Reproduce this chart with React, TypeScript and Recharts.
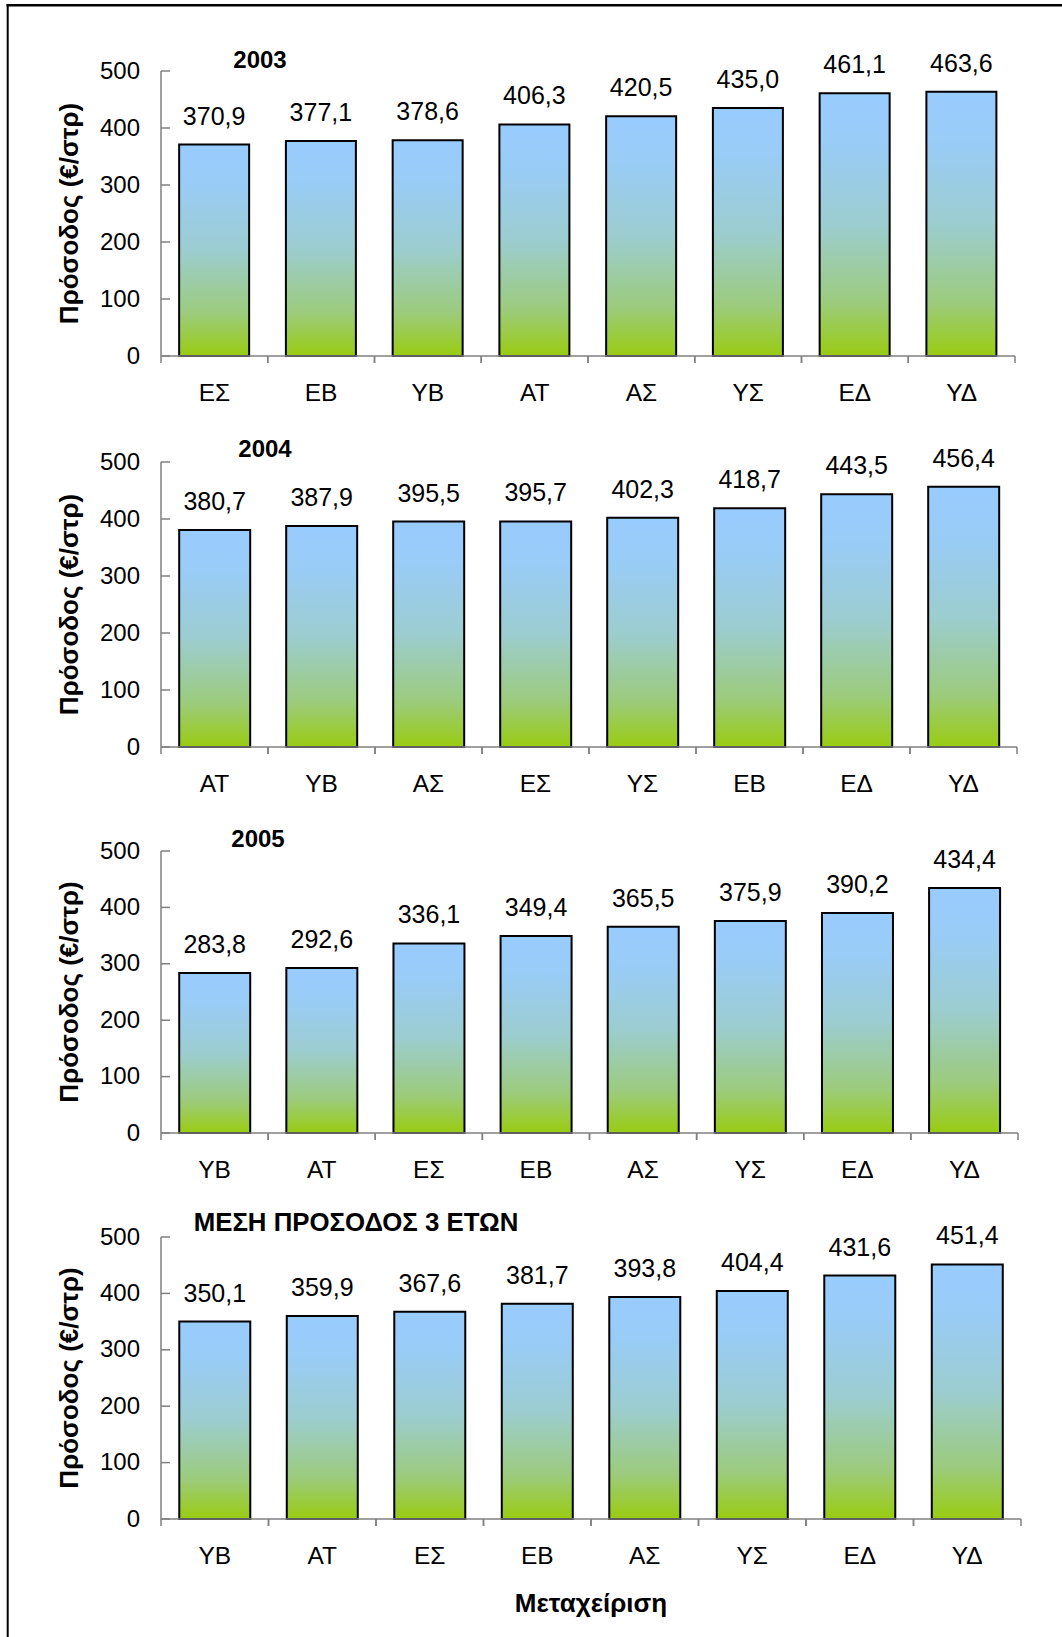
import React from 'react'
import { BarChart, Bar, XAxis, YAxis, LabelList } from 'recharts'

const FONT = '"Liberation Sans", Arial, sans-serif'

// 2003
const cats2003 = ['ΕΣ', 'ΕΒ', 'ΥΒ', 'ΑΤ', 'ΑΣ', 'ΥΣ', 'ΕΔ', 'ΥΔ']
const vals2003 = [370.9, 377.1, 378.6, 406.3, 420.5, 435.0, 461.1, 463.6]

// 2004
const cats2004 = ['ΑΤ', 'ΥΒ', 'ΑΣ', 'ΕΣ', 'ΥΣ', 'ΕΒ', 'ΕΔ', 'ΥΔ']
const vals2004 = [380.7, 387.9, 395.5, 395.7, 402.3, 418.7, 443.5, 456.4]

// 2005
const cats2005 = ['ΥΒ', 'ΑΤ', 'ΕΣ', 'ΕΒ', 'ΑΣ', 'ΥΣ', 'ΕΔ', 'ΥΔ']
const vals2005 = [283.8, 292.6, 336.1, 349.4, 365.5, 375.9, 390.2, 434.4]

// 3-year mean
const catsMean = ['ΥΒ', 'ΑΤ', 'ΕΣ', 'ΕΒ', 'ΑΣ', 'ΥΣ', 'ΕΔ', 'ΥΔ']
const valsMean = [350.1, 359.9, 367.6, 381.7, 393.8, 404.4, 431.6, 451.4]

const yTicks = [0, 100, 200, 300, 400, 500]
const yLabel = 'Πρόσοδος (€/στρ)'
const xLabel = 'Μεταχείριση'

const PAGE_W = 1062
const PAGE_H = 1637
const AXIS_X = 161
const TOP_PAD = 40
const AXIS_COLOR = '#808080'

const fmt = (v: any) => Number(v).toFixed(1).replace('.', ',')

type PanelProps = {
  id: string
  cats: string[]
  vals: number[]
  plotTop: number
  plotHeight: number
  plotRight: number
}

const Panel = ({ id, cats, vals, plotTop, plotHeight, plotRight }: PanelProps) => {
  const data = cats.map((c, i) => ({ name: c, value: vals[i] }))
  const band = (plotRight - AXIS_X) / cats.length
  const xAxisH = 60

  const XTick = (props: any) => {
    const { x, y, payload } = props
    return (
      <g>
        <line x1={x - band / 2} y1={y} x2={x - band / 2} y2={y + 7} stroke={AXIS_COLOR} strokeWidth={1.5} />
        <line x1={x + band / 2} y1={y} x2={x + band / 2} y2={y + 7} stroke={AXIS_COLOR} strokeWidth={1.5} />
        <text x={x} y={y + 36} dy="0.355em" textAnchor="middle" fontSize={24.5} fill="#000" fontFamily={FONT}>
          {payload.value}
        </text>
      </g>
    )
  }

  const YTick = (props: any) => {
    const { x, y, payload } = props
    return (
      <g>
        <line x1={x} y1={y} x2={x + 9} y2={y} stroke={AXIS_COLOR} strokeWidth={1.5} />
        <text x={x - 21} y={y - 1} dy="0.355em" textAnchor="end" fontSize={24} fill="#000" fontFamily={FONT}>
          {payload.value}
        </text>
      </g>
    )
  }

  return (
    <div style={{ position: 'absolute', left: 0, top: plotTop - TOP_PAD }}>
      <BarChart
        width={PAGE_W}
        height={TOP_PAD + plotHeight + xAxisH}
        data={data}
        margin={{ top: TOP_PAD, right: PAGE_W - plotRight, bottom: 0, left: 0 }}
        barCategoryGap="17%"
      >
        <defs>
          <linearGradient id={id} x1="0" y1="0" x2="0" y2="1">
            <stop offset="0%" stopColor="#99CCFF" />
            <stop offset="20%" stopColor="#99CCF5" />
            <stop offset="50%" stopColor="#9CCDD0" />
            <stop offset="80%" stopColor="#9CCB7C" />
            <stop offset="100%" stopColor="#99CC11" />
          </linearGradient>
        </defs>
        <XAxis
          dataKey="name"
          height={xAxisH}
          interval={0}
          tickSize={0}
          tickMargin={0}
          tickLine={false}
          tick={XTick}
          axisLine={{ stroke: AXIS_COLOR, strokeWidth: 1.5 }}
        />
        <YAxis
          width={AXIS_X}
          domain={[0, 500]}
          ticks={yTicks}
          interval={0}
          tickSize={0}
          tickMargin={0}
          tickLine={false}
          tick={YTick}
          axisLine={{ stroke: AXIS_COLOR, strokeWidth: 1.5 }}
          label={{
            value: yLabel,
            angle: -90,
            position: 'insideLeft',
            offset: 69,
            style: { textAnchor: 'middle', fontWeight: 'bold', fontSize: 26, fontFamily: FONT, fill: '#000' },
          }}
        />
        <Bar dataKey="value" fill={`url(#${id})`} stroke="#000" strokeWidth={2} isAnimationActive={false}>
          <LabelList dataKey="value" position="top" offset={20} formatter={fmt} fontSize={25} fill="#000" fontFamily={FONT} />
        </Bar>
      </BarChart>
    </div>
  )
}

const App = () => {
  return (
    <div style={{ position: 'absolute', left: 0, top: 0, width: PAGE_W, height: PAGE_H, overflow: 'hidden', background: '#fff' }}>
      <Panel id="g2003" cats={cats2003} vals={vals2003} plotTop={71} plotHeight={285} plotRight={1015} />
      <Panel id="g2004" cats={cats2004} vals={vals2004} plotTop={462} plotHeight={285} plotRight={1017} />
      <Panel id="g2005" cats={cats2005} vals={vals2005} plotTop={851} plotHeight={282} plotRight={1018} />
      <Panel id="gmean" cats={catsMean} vals={valsMean} plotTop={1237} plotHeight={282} plotRight={1021} />
      <svg width={PAGE_W} height={PAGE_H} style={{ position: 'absolute', left: 0, top: 0, pointerEvents: 'none' }}>
        <line x1={6.5} y1={5.3} x2={PAGE_W} y2={5.3} stroke="#000" strokeWidth={2.5} />
        <line x1={7.7} y1={4} x2={7.7} y2={PAGE_H} stroke="#000" strokeWidth={2} />
        <g fontFamily={FONT} fontWeight="bold" fill="#000" textAnchor="middle">
          <text x={260} y={68} fontSize={24}>2003</text>
          <text x={265} y={457} fontSize={24}>2004</text>
          <text x={258} y={847} fontSize={24}>2005</text>
          <text x={356} y={1231} fontSize={25.8}>ΜΕΣΗ ΠΡΟΣΟΔΟΣ 3 ΕΤΩΝ</text>
          <text x={591} y={1612} fontSize={26}>{xLabel}</text>
        </g>
      </svg>
    </div>
  )
}

export default App
